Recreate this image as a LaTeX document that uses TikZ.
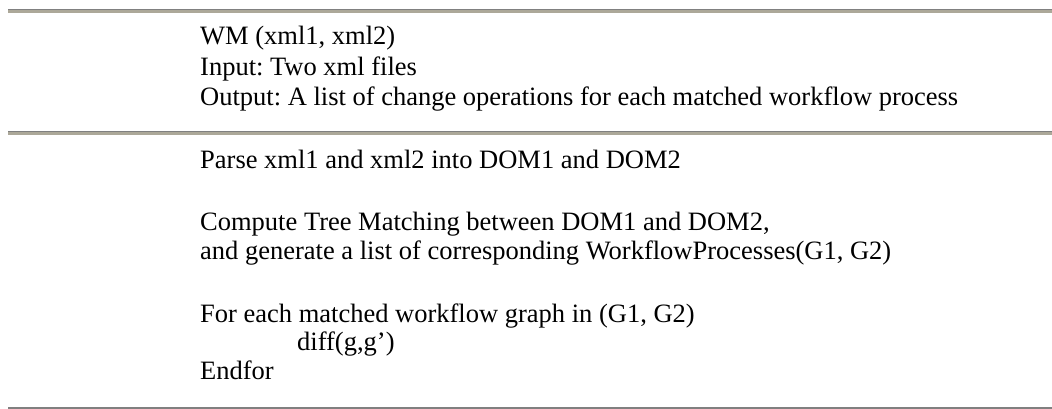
\documentclass[tikz,border=0pt]{standalone}
\usepackage{fontspec}
\setmainfont{Liberation Serif}
\frenchspacing
\definecolor{ruledark}{HTML}{808080}
\definecolor{rulelight}{HTML}{ACA899}
\tikzset{
  algline/.style={anchor=base west, inner sep=0pt, font=\fontsize{26.5}{30}\selectfont},
  darkrule/.style={fill=ruledark},
  lightrule/.style={fill=rulelight}
}
\begin{document}
\begin{tikzpicture}[x=1pt,y=-1pt]
  \useasboundingbox (0,0) rectangle (1052,409);
  % header rules
  \fill[darkrule] (8,9) rectangle (1052,10.5);
  \fill[lightrule] (8,10.5) rectangle (1052,13);
  \fill[darkrule] (8,131) rectangle (1052,132.5);
  \fill[lightrule] (8,132.5) rectangle (1052,135);
  \fill[darkrule] (8,406.5) rectangle (1052,409);
  % header
  \node[algline] (name) at (200,45) {WM (xml1, xml2)};
  \node[algline] (input) at (200,75.5) {Input: Two xml files};
  \node[algline] (output) at (200,106) {Output: A list of change operations for each matched workflow process};
  % body
  \node[algline] (parse) at (200,168) {Parse xml1 and xml2 into DOM1 and DOM2};
  \node[algline] (match) at (200,230.5) {Compute Tree Matching between DOM1 and DOM2,};
  \node[algline] (gen) at (200,259) {and generate a list of corresponding WorkflowProcesses(G1, G2)};
  \node[algline] (loop) at (200,322) {For each matched workflow graph in (G1, G2)};
  \node[algline] (diff) at (297,350.5) {diff(g,g’)};
  \node[algline] (endloop) at (200,379) {Endfor};
\end{tikzpicture}
\end{document}
